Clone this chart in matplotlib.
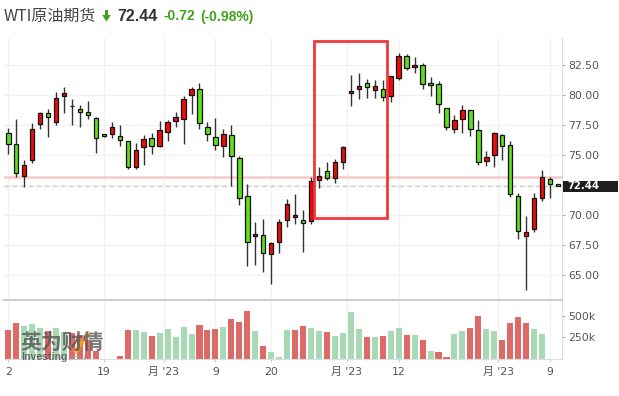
import matplotlib
matplotlib.use("Agg")
import matplotlib.pyplot as plt
from matplotlib.patches import Rectangle, Polygon
from matplotlib.lines import Line2D

plt.rcParams['font.family'] = ['DejaVu Sans', 'Noto Sans CJK SC']

# ---------------- data ----------------
opens = [76.81, 75.89, 73.28, 74.58, 77.56, 78.47, 77.72, 79.94, 79.08, 78.81,
         78.56, 78.06, 76.72, 76.72, 76.56, 76.14, 73.97, 75.64, 76.39, 75.72,
         76.89, 77.81, 77.97, 79.97, 80.47, 77.31, 76.47, 75.72, 76.64, 74.72,
         71.56, 68.22, 68.31, 66.72, 67.72, 69.56, 69.81, 69.56, 69.47, 72.89,
         73.64, 73.06, 74.39, 80.14, 80.47, 80.97, 80.39, 80.47, 79.89, 81.44,
         83.25, 82.31, 82.50, 81.00, 80.89, 78.89, 77.14, 77.97, 78.72, 77.06,
         74.47, 74.97, 76.64, 75.81, 71.56, 68.22, 68.81, 71.39, 72.97, 72.50]
highs = [77.22, 77.97, 74.58, 77.64, 78.56, 78.81, 80.28, 80.64, 79.64, 79.17,
         79.53, 78.19, 76.75, 77.72, 77.50, 76.14, 75.97, 76.64, 76.81, 77.81,
         77.89, 78.56, 79.89, 80.64, 80.97, 77.72, 78.06, 77.14, 77.47, 74.89,
         72.56, 69.39, 69.64, 67.72, 69.64, 71.31, 71.72, 70.39, 73.14, 73.97,
         74.39, 74.64, 75.72, 81.64, 81.81, 81.31, 81.22, 81.22, 81.56, 83.47,
         83.39, 83.14, 82.69, 81.47, 81.14, 78.89, 78.31, 79.14, 78.72, 77.89,
         75.31, 76.89, 76.72, 76.14, 71.81, 69.89, 71.81, 73.72, 73.14, 72.55]
lows = [75.06, 73.14, 72.31, 74.36, 77.14, 76.53, 77.50, 78.47, 77.50, 77.31,
        77.97, 75.14, 76.53, 76.39, 75.75, 73.86, 73.86, 74.14, 75.06, 75.64,
        76.14, 77.31, 75.89, 78.39, 77.14, 76.14, 75.42, 74.81, 72.39, 70.81,
        65.72, 65.81, 65.22, 64.22, 66.81, 68.97, 69.22, 66.89, 69.22, 72.22,
        72.89, 72.64, 73.81, 79.06, 79.64, 79.72, 79.72, 79.47, 79.39, 81.25,
        82.08, 81.81, 80.47, 79.89, 78.47, 77.06, 76.81, 76.81, 76.56, 74.14,
        74.06, 73.97, 74.56, 71.47, 68.03, 63.72, 68.56, 71.14, 71.39, 72.40]
closes = [75.89, 73.47, 74.14, 77.14, 78.47, 78.14, 79.72, 80.14, 79.08, 78.61,
          78.36, 76.39, 76.56, 77.31, 76.22, 73.97, 75.39, 76.31, 75.72, 77.06,
          77.72, 78.14, 79.64, 80.47, 77.64, 76.72, 75.81, 76.72, 74.89, 71.39,
          67.72, 68.39, 66.81, 67.64, 69.39, 70.89, 69.97, 69.31, 72.81, 73.22,
          73.06, 74.39, 75.64, 80.36, 80.72, 80.64, 80.72, 79.81, 81.56, 83.25,
          82.22, 82.50, 80.89, 80.81, 79.22, 77.31, 77.89, 78.72, 77.14, 74.39,
          74.81, 76.81, 75.72, 71.72, 68.64, 68.56, 71.39, 73.14, 72.56, 72.44]
volumes_k = [330, 415, 377, 400, 353, 318, 353, 307, 295, 278,
             216, 84, 0, 0, 26, 330, 330, 307, 260, 295,
             342, 255, 365, 283, 388, 330, 342, 365, 459, 424,
             552, 318, 143, 76, 14, 330, 333, 377, 353, 322,
             310, 263, 295, 541, 342, 248, 248, 260, 316, 353,
             275, 271, 213, 84, 73, 14, 287, 316, 353, 497,
             342, 318, 213, 412, 482, 412, 342, 287, 0, 0]
volume_side = list("RRGGGRGGRR" "RRGGRRGGRG" "GGGGRRRGRR" "RGRGGGRRGG"
                   "RGGGGRGRGG" "RGRGRRGGRR" "GGRRRRGGGG")

price_ticks = [65.0, 67.5, 70.0, 72.5, 75.0, 77.5, 80.0, 82.5]
volume_ticks = [250, 500]
volume_tick_labels = ["250k", "500k"]
date_tick_pos = [0, 12, 19.5, 26, 33, 42.5, 49, 61.5, 68]
date_tick_labels = ["2", "19", "月 '23", "9", "20", "月 '23", "12", "月 '23", "9"]

last_price = 72.44
prev_close = 73.16
title_name = "WTI原油期货"
title_price = "72.44"
title_change = "-0.72"
title_pct = "(-0.98%)"

# ---------------- figure ----------------
W, H = 619, 396
fig = plt.figure(figsize=(W / 100, H / 100), dpi=100)


def fx(px):
    return px / W


def fy(py):
    return 1 - py / H


L, R = 4.3, 562.0
ax = fig.add_axes([fx(L), fy(299), fx(R) - fx(L), fy(38) - fy(299)])
axv = fig.add_axes([fx(L), fy(358.5), fx(R) - fx(L), fy(300) - fy(358.5)])

n = len(opens)
UP = '#ec0c0c'
DOWN = '#62dd1c'

for i in range(n):
    o, h, l, c = opens[i], highs[i], lows[i], closes[i]
    ax.vlines(i, l, h, color='#333333', lw=1.0, zorder=3)
    if abs(c - o) < 0.03:
        ax.hlines(o, i - 0.3, i + 0.3, color='#222222', lw=1.0, zorder=4)
        continue
    col = UP if c > o else DOWN
    bot = min(o, c)
    hgt = max(abs(c - o), 0.14)
    ax.add_patch(Rectangle((i - 0.28, bot), 0.56, hgt, facecolor=col,
                           edgecolor='#111111', lw=0.9, zorder=4))

ax.set_xlim(-0.5, n - 0.5)
ax.set_ylim(63.0, 84.75)

ax.axhline(prev_close, color='#f8c9c9', lw=1.8, zorder=1)
ax.axhline(last_price, color='#cfcfcf', lw=1.0, ls=(0, (3.4, 2.4)), zorder=1)

# highlight box
ax.add_patch(Rectangle((38.4, 69.78), 47.48 - 38.4, 84.46 - 69.78, fill=False,
                       edgecolor='#f03a3a', lw=2.0, zorder=6, clip_on=False))

ax.yaxis.tick_right()
ax.set_yticks(price_ticks)
ax.set_yticklabels([f"{t:.2f}" for t in price_ticks])
ax.tick_params(axis='y', length=1.8, width=0.8, color='#aaaaaa', labelsize=7.8,
               labelcolor='#555555', pad=2.5)
ax.set_xticks(date_tick_pos)
ax.tick_params(axis='x', length=0, labelbottom=False)
ax.grid(True, color='#f1f1f1', lw=1.0, zorder=0)
for s in ['top', 'left', 'bottom']:
    ax.spines[s].set_visible(False)
ax.spines['right'].set_color('#dcdcdc')
ax.set_axisbelow(True)

# volume
vcols = ['#dd6a66' if s == 'R' else '#a9d8b5' for s in volume_side]
axv.bar(range(n), volumes_k, width=0.76, color=vcols, zorder=2)
axv.set_xlim(-0.5, n - 0.5)
axv.set_ylim(0, 684)
axv.yaxis.tick_right()
axv.set_yticks(volume_ticks)
axv.set_yticklabels(volume_tick_labels)
axv.tick_params(axis='y', length=1.8, width=0.8, color='#aaaaaa', labelsize=7.8,
                labelcolor='#555555', pad=2.5)
axv.set_xticks(date_tick_pos)
axv.set_xticklabels(date_tick_labels)
axv.tick_params(axis='x', length=2.2, width=0.8, color='#cccccc', labelsize=7.8,
                labelcolor='#555555', pad=4)
axv.grid(True, axis='x', color='#f1f1f1', lw=1.0, zorder=0)
axv.set_axisbelow(True)
axv.spines['left'].set_visible(False)
axv.spines['top'].set_color('#c8c8c8')
axv.spines['top'].set_linewidth(1.3)
axv.spines['bottom'].set_color('#dddddd')
axv.spines['right'].set_color('#dcdcdc')

# current price label on right axis
fig.patches.append(Rectangle((fx(562.5), fy(191.7)), fx(618) - fx(562.5), fy(180.7) - fy(191.7),
                             transform=fig.transFigure, facecolor='#1e1e1e', edgecolor='none',
                             zorder=10))
fig.text(fx(567.5), fy(186.2), f"{last_price:.2f}", color='white', fontsize=7.3,
         fontweight='bold', va='center', ha='left', zorder=11)

# title
fig.text(fx(4), fy(16.5), title_name, fontsize=11.5, color='#444444', va='center',
         ha='left', family=['Noto Sans CJK SC', 'DejaVu Sans'])
arrow = [(105, 10), (108, 10), (108, 15), (110.8, 15), (106.5, 21.5), (102.2, 15), (105, 15)]
fig.patches.append(Polygon([(fx(a), fy(b)) for a, b in arrow], closed=True,
                           transform=fig.transFigure, facecolor='#3fa318', edgecolor='none'))
fig.text(fx(117), fy(16.5), title_price, fontsize=11.5, color='#333333', fontweight='bold',
         va='center', ha='left', family=['Liberation Sans', 'DejaVu Sans'])
fig.text(fx(163), fy(16.5), title_change, fontsize=10, color='#3fa318', fontweight='bold',
         va='center', ha='left', family=['Liberation Sans', 'DejaVu Sans'])
fig.text(fx(200), fy(16.5), title_pct, fontsize=10, color='#3fa318', fontweight='bold',
         va='center', ha='left', family=['Liberation Sans', 'DejaVu Sans'])

# watermark
fig.lines.append(Line2D([fx(76), fx(88)], [fy(351), fy(334)], transform=fig.transFigure,
                        color='#f5a623', lw=3.5, alpha=0.75, zorder=8))
fig.text(fx(20), fy(342.5), "英为财情", fontsize=15, color='#555555', alpha=0.8,
         fontweight='bold', va='center', ha='left', zorder=9,
         family=['Noto Sans CJK SC', 'DejaVu Sans'])
fig.text(fx(21), fy(357.5), "Investing", fontsize=7.6, color='#555555', alpha=0.85,
         fontweight='bold', va='center', ha='left', zorder=9,
         family=['Liberation Sans', 'DejaVu Sans'])
fig.text(fx(67), fy(358.5), ".com", fontsize=6, color='#999999', alpha=0.85,
         va='center', ha='left', zorder=9, family=['Liberation Sans', 'DejaVu Sans'])

fig.savefig("out.png", dpi=100)
